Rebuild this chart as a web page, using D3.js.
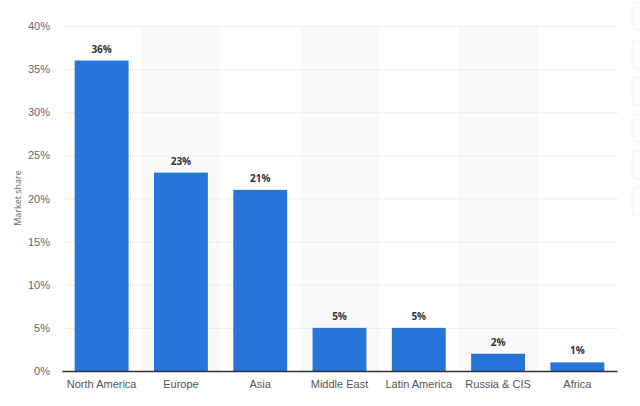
<!DOCTYPE html>
<html><head><meta charset="utf-8">
<script src="https://cdn.jsdelivr.net/npm/d3@7"></script>
<style>
html,body{margin:0;padding:0;background:#fff;}
svg{display:block;font-family:"Open Sans","DejaVu Sans",sans-serif;}
</style></head><body>
<svg id="c" width="640" height="406"></svg>
<script>
const categories = ["North America","Europe","Asia","Middle East","Latin America","Russia & CIS","Africa"];
const values = [36,23,21,5,5,2,1];
const yTicks = [0,5,10,15,20,25,30,35,40];

const svg = d3.select("#c");
const m = {left:62, right:617, top:26, bottom:371};

const x = d3.scaleBand().domain(categories).range([m.left,m.right]).paddingInner(0.32).paddingOuter(0.16);
const y = d3.scaleLinear().domain([0,40]).range([m.bottom,m.top]);

// side buttons
[2,40,77,114,151,188].forEach(t=>{
  svg.append("rect").attr("x",632).attr("y",t).attr("width",20).attr("height",28).attr("rx",4)
    .attr("fill","#fff").attr("stroke","#f1f2f4");
});

// alternating bands
const step = x.step();
categories.forEach((c,i)=>{
  if(i%2===1){
    svg.append("rect").attr("x",x(c)-step*x.paddingInner()/2).attr("y",m.top)
      .attr("width",step).attr("height",m.bottom-m.top).attr("fill","#f9f9f9");
  }
});

// grid
const yAxis = d3.axisLeft(y).tickValues(yTicks).tickFormat(d=>d+"%").tickSize(-(m.right-m.left)).tickPadding(12);
const g = svg.append("g").attr("transform",`translate(${m.left},0)`).call(yAxis);
g.select(".domain").remove();
g.selectAll(".tick line").attr("stroke","#dcdcdc").attr("stroke-dasharray","1,1");
g.selectAll(".tick text").attr("fill","#666").attr("font-size","11px");

// bars
svg.selectAll(".bar").data(values).enter().append("rect")
  .attr("x",(d,i)=>x(categories[i])).attr("y",d=>y(d))
  .attr("width",x.bandwidth()).attr("height",d=>y(0)-y(d)).attr("fill","#2875d9");

// value labels
svg.selectAll(".vl").data(values).enter().append("text")
  .attr("x",(d,i)=>x(categories[i])+x.bandwidth()/2).attr("y",d=>y(d)-8)
  .attr("text-anchor","middle").attr("font-size","10px").attr("font-weight","bold").attr("fill","#333")
  .text(d=>d+"%");

// x axis
const xa = svg.append("g").attr("transform",`translate(0,${m.bottom})`).call(d3.axisBottom(x).tickSize(0).tickPadding(9));
xa.select(".domain").attr("stroke","#333").attr("stroke-width",1.5);
xa.selectAll(".tick text").attr("fill","#555").attr("font-size","11px");

// y title
svg.append("text").attr("transform","translate(21,198) rotate(-90)").attr("text-anchor","middle")
  .attr("font-size","9px").attr("fill","#666").text("Market share");
</script></body></html>
